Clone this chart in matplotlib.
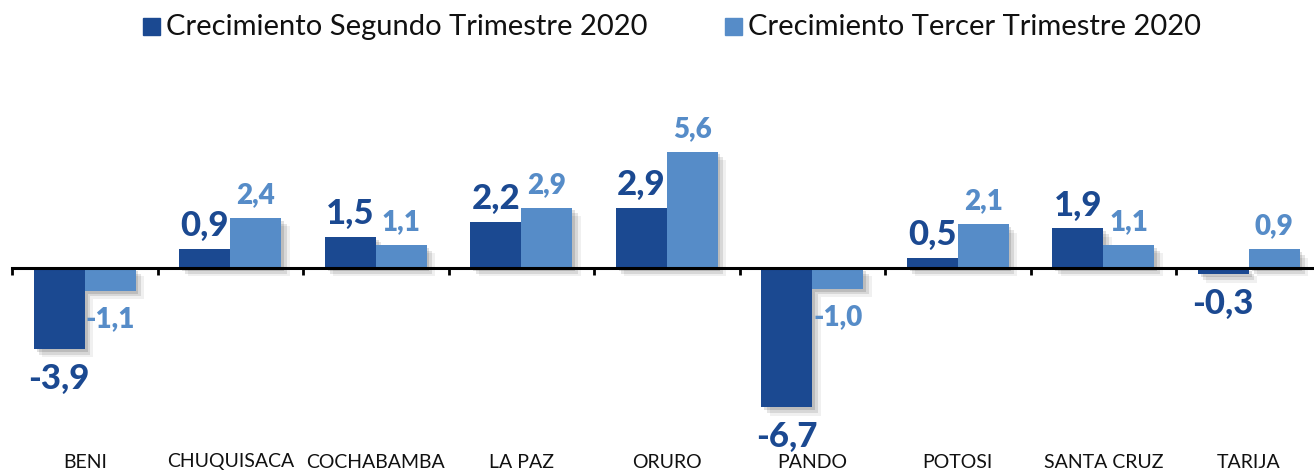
import matplotlib
matplotlib.use("Agg")
import matplotlib.pyplot as plt
import matplotlib.patheffects as pe
import matplotlib.transforms as mtransforms
from matplotlib.patches import Rectangle
import numpy as np

categories = ["BENI", "CHUQUISACA", "COCHABAMBA", "LA PAZ", "ORURO",
              "PANDO", "POTOSI", "SANTA CRUZ", "TARIJA"]
q2 = [-3.9, 0.9, 1.5, 2.2, 2.9, -6.7, 0.5, 1.9, -0.3]
q3 = [-1.1, 2.4, 1.1, 2.9, 5.6, -1.0, 2.1, 1.1, 0.9]
series_names = ["Crecimiento Segundo Trimestre 2020", "Crecimiento Tercer Trimestre 2020"]

c_dark = "#1B4991"
c_light = "#568CC8"
FONT = "Lato"

W, H = 1314, 472
fig = plt.figure(figsize=(W / 100, H / 100), dpi=100)

# axes placement in pixels
x0_px, unit_x = 12, 145.5
y0_px, unit_y = 268, 20.8
ax_top_px, ax_bot_px = 90, 440
xlim = (-0.5, 8.5)
ax_left = x0_px / W
ax_width = 9 * unit_x / W
ylim = (-(ax_bot_px - y0_px) / unit_y, (y0_px - ax_top_px) / unit_y)
ax = fig.add_axes([ax_left, 1 - ax_bot_px / H, ax_width, (ax_bot_px - ax_top_px) / H])
ax.set_xlim(*xlim)
ax.set_ylim(*ylim)

x = np.arange(len(categories))
w = 0.35

shadow = [pe.SimplePatchShadow(offset=(6, -6), shadow_rgbFace="#000000", alpha=0.06),
          pe.SimplePatchShadow(offset=(4, -4), shadow_rgbFace="#000000", alpha=0.10),
          pe.SimplePatchShadow(offset=(2, -2), shadow_rgbFace="#000000", alpha=0.12),
          pe.Normal()]

b1 = ax.bar(x - w / 2, q2, w, color=c_dark, zorder=2)
b2 = ax.bar(x + w / 2, q3, w, color=c_light, zorder=2)
for b in list(b1) + list(b2):
    b.set_path_effects(shadow)

def fmt(v):
    return f"{v:.1f}".replace(".", ",")

for xi, v in zip(x - w / 2, q2):
    ax.annotate(fmt(v), (xi, v), xytext=(0, 5 if v >= 0 else -10), textcoords="offset points",
                ha="center", va="bottom" if v >= 0 else "top",
                fontsize=25, fontweight="black", color=c_dark, family=FONT, zorder=5)
for xi, v in zip(x + w / 2, q3):
    ax.annotate(fmt(v), (xi, v), xytext=(0, 7 if v >= 0 else -11), textcoords="offset points",
                ha="center", va="bottom" if v >= 0 else "top",
                fontsize=20, fontweight="heavy", color=c_light, family=FONT, zorder=5)

# axis styling
for s in ["top", "right", "left"]:
    ax.spines[s].set_visible(False)
ax.spines["bottom"].set_position(("data", 0))
ax.spines["bottom"].set_linewidth(2.2)
ax.spines["bottom"].set_color("black")
ax.spines["bottom"].set_zorder(3)
ax.set_yticks([])
ax.set_xticks(np.arange(-0.5, 9, 1))
ax.set_xticklabels([])
ax.tick_params(axis="x", direction="out", length=5, width=2, color="black")

trans = mtransforms.blended_transform_factory(ax.transData, fig.transFigure)
for xi, c in zip(x, categories):
    ax.text(xi, 1 - 462 / H, c, transform=trans, ha="center", va="center",
            fontsize=14, family=FONT, color="#111111")

# legend
leg_items = [(143, c_dark, series_names[0]), (725, c_light, series_names[1])]
for px, col, name in leg_items:
    fig.patches.append(Rectangle((px / W, 1 - 35 / H), 17 / W, 17 / H,
                                 transform=fig.transFigure, color=col))
    fig.text((px + 23) / W, 1 - 27 / H, name, ha="left", va="center",
             fontsize=21, family=FONT, color="#111111")

fig.savefig("out.png", dpi=100)
